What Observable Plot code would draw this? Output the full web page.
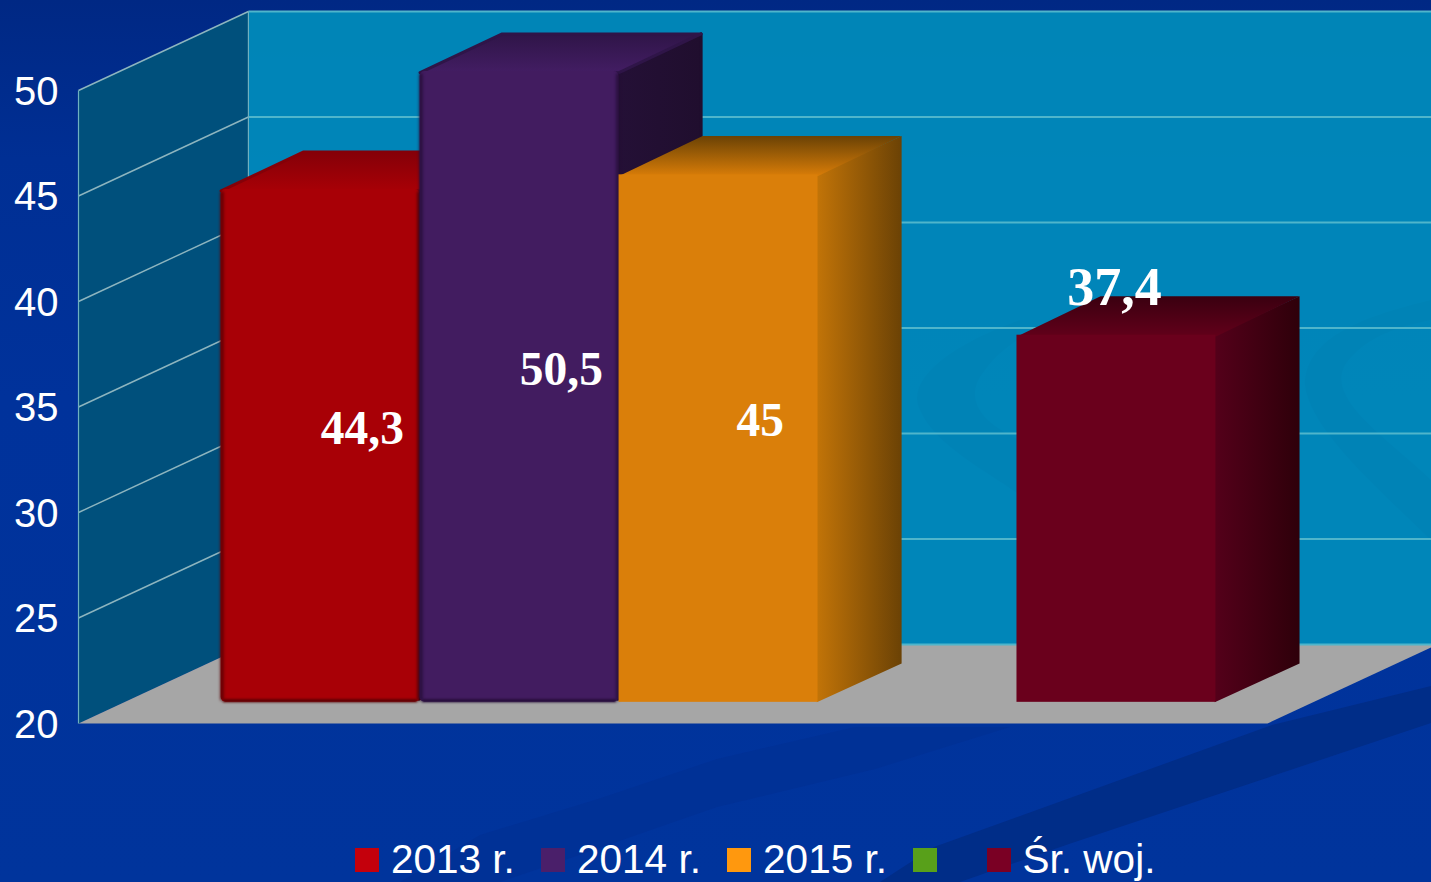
<!DOCTYPE html>
<html lang="pl">
<head>
<meta charset="utf-8">
<title>Wykres słupkowy</title>
<script src="https://cdn.jsdelivr.net/npm/d3@7"></script>
<script src="https://cdn.jsdelivr.net/npm/@observablehq/plot@0.6"></script>
<style>
  html, body { margin: 0; padding: 0; width: 1431px; height: 882px; overflow: hidden; background: #00329b; }
  #decor { position: absolute; left: 0; top: 0; width: 1431px; height: 882px; }
  #chart { position: absolute; left: 0; top: 0; width: 1431px; height: 830px; }
  #chart svg { display: block; background: transparent; overflow: hidden; }
  #legend { position: absolute; left: 355px; top: 830px; height: 52px; overflow: hidden; display: flex; gap: 26.2px;
            padding-top: 9px; box-sizing: border-box; color: #fff; font: 40.5px/1 "Liberation Sans", Arial, sans-serif; white-space: pre; }
  #legend .item { display: flex; align-items: flex-start; }
  #legend .sw { width: 24px; height: 24px; margin: 9px 12px 0 0; flex: none; }
</style>
</head>
<body>
<!-- decorative slide background, not chart data -->
<svg id="decor" viewBox="0 0 1431 882" aria-hidden="true">
  <defs>
    <linearGradient id="bgv" x1="0" y1="0" x2="0" y2="1">
      <stop offset="0" stop-color="#002884"/>
      <stop offset="0.18" stop-color="#002f94"/>
      <stop offset="0.45" stop-color="#00329b"/>
      <stop offset="1" stop-color="#00349c"/>
    </linearGradient>
  </defs>
  <rect width="1431" height="882" fill="url(#bgv)"/>
  <path d="M855 727 L717 759 L598 799 L480 835 L400 882 L500 882 L559 862 L717 807 L875 769 L1010 727 Z" fill="#003196"/>
  <path d="M1431 686 L1272 725 L934 847 L880 882 L960 882 L1069 844 L1431 723 Z" fill="#002d88"/>
  <path d="M1020 320 C950 345 905 380 920 410 C935 445 985 470 1020 495 L1020 440 C985 425 960 400 985 370 C995 355 1010 345 1020 338 Z" fill="#001a78"/>
  <path d="M1431 300 C1370 315 1305 335 1305 385 C1310 430 1380 490 1431 540 L1431 480 C1390 440 1325 400 1345 365 C1365 335 1405 325 1431 320 Z" fill="#001a78"/>
</svg>
<div id="chart"></div>
<div id="legend"></div>

<script>
// ---- data ----
const seriesNames = ["2013 r.", "2014 r.", "2015 r.", "\u00a0", "Śr. woj."];
const seriesValues = [44.3, 50.5, 45, null, 37.4];
const valueLabels = ["44,3", "50,5", "45", "", "37,4"];
const tickValues = [20, 25, 30, 35, 40, 45, 50];

// ---- colours ----
const swatchColors = ["#c4000c", "#4a1f6a", "#ff980e", "#58a01a", "#7a0024"];
const frontColors  = ["#a80006", "#421c60", "#da7f0a", "#6a001c", "#6a001c"];
const topColors    = [["#a80006","#850008"], ["#431d63","#2f1548"], ["#d97d08","#6a4205"], null, ["#62001a","#3a0010"]];
const sideColors   = [["#6a0004","#4a0004"], ["#241036","#200e2e"], ["#c27408","#6b4205"], null, ["#54001a","#2e000a"]];
const edgeColors   = ["#560003", "#240d36", null, null, null];

// ---- oblique projection of the 3D chart box ----
const width = 1431, height = 830;
const xDomain = [-0.488, 5.488];     // series slots across the floor
const yDomain = [20, 50];
const depthX = 0.854, depthY = 3.744; // how one full depth shifts a point, in slots and in value units
const barDepth = [0.268, 0.76];      // where the bars stand on the floor
const yCeil = 49.9;                  // the bars are cut at the top of the value axis

const P = (slot, value, depth) => ({x: slot + depth * depthX, y: value + depth * depthY});
const poly = (...pts) => pts.map(p => P(...p));
const face = (pts, fill, extra = {}) =>
  Plot.line(pts, {x: "x", y: "y", fill, fillOpacity: extra.fillOpacity ?? 1, stroke: extra.stroke ?? "none", strokeWidth: extra.strokeWidth ?? 0, curve: "linear-closed"});

const [x0, x1] = xDomain, [yLo, yHi] = yDomain;
const [d0, d1] = barDepth;

const barMarks = seriesValues.flatMap((value, i) => {
  if (value == null) return [];
  const v = Math.min(value, yCeil);
  const f = P(i, yLo, d0), fTop = P(i + 1, v, d0);
  const round = edgeColors[i] != null;
  const back = round ? d1 - 0.009 : d1;   // rounded bars: the stroke supplies the outer pixel
  const vBack = round ? v - 0.03 : v;
  const vFoot = round ? yLo + 0.15 : yLo;
  const lap = 0.006;                      // side and top slip under the front face, so no seam shows
  const marks = [
    face(poly([i + 1 - lap, vFoot, d0], [i + 1 - lap, vBack, d0], [i + 1, vBack, back], [i + 1, vFoot, back]), `url(#side${i})`,
         round ? {stroke: sideColors[i][1], strokeWidth: 3} : {}),
    face(poly([i, v - lap * 10, d0], [i + 1, v - lap * 10, d0], [i + 1, vBack, back], [i, vBack, back]), `url(#top${i})`,
         round ? {stroke: topColors[i][1], strokeWidth: 3} : {}),
    Plot.rect([0], {x1: f.x, x2: fTop.x, y1: f.y, y2: fTop.y, fill: frontColors[i], rx: round ? 5 : 0})
  ];
  if (round) {
    marks.push(
      Plot.ruleX([f.x + 0.004, fTop.x - 0.006], {y1: f.y + 0.08, y2: fTop.y - 0.12, stroke: edgeColors[i], strokeWidth: 3, imageFilter: "blur(1.5px)"}),
      Plot.ruleY([f.y + 0.08], {x1: f.x + 0.012, x2: fTop.x - 0.012, stroke: edgeColors[i], strokeWidth: 3, imageFilter: "blur(1.2px)"})
    );
  }
  return marks;
});

const gridTicks = tickValues.filter(t => t > yLo);
const labelRows = seriesValues.map((value, i) => ({value, i, label: valueLabels[i]})).filter(d => d.value != null);
const midDepth = (d0 + d1) / 2;
const insideRows = labelRows.filter(d => d.value > 40);
const aboveRows = labelRows.filter(d => d.value <= 40);

const defsMark = () => {
  const svg = d3.create("svg:defs");
  const grad = (id, [a, b], horizontal) => {
    const g = svg.append("linearGradient").attr("id", id)
      .attr("x1", 0).attr("y1", horizontal ? 0 : 1).attr("x2", horizontal ? 1 : 0).attr("y2", 0);
    g.append("stop").attr("offset", 0).attr("stop-color", a);
    g.append("stop").attr("offset", 1).attr("stop-color", b);
  };
  topColors.forEach((c, i) => c && grad(`top${i}`, c, false));
  sideColors.forEach((c, i) => c && grad(`side${i}`, c, true));
  return svg.node();
};

const fontSans = '"Liberation Sans", Arial, sans-serif';
const fontSerif = '"Liberation Serif", "Times New Roman", serif';

const chart = Plot.plot({
  width, height,
  marginLeft: 78, marginRight: width - 1267, marginTop: 90, marginBottom: height - 723,
  style: {background: "transparent", overflow: "hidden"},
  x: {domain: xDomain, axis: null},
  y: {domain: yDomain},
  marks: [
    defsMark,
    // walls and floor (the back wall lets the slide's background show faintly)
    face(poly([x0, yLo, 1], [x1, yLo, 1], [x1, yHi, 1], [x0, yHi, 1]), "#008fbc", {fillOpacity: 0.9}),
    face(poly([x0, yLo, 0], [x0, yHi, 0], [x0, yHi, 1], [x0, yLo, 1]), "#00507c"),
    face(poly([x0, yLo, 0], [x1, yLo, 0], [x1, yLo, 1], [x0, yLo, 1]), "#a6a6a6"),
    // gridlines
    Plot.link(tickValues, {
      x1: () => P(x0, 0, 1).x, x2: () => P(x1, 0, 1).x,
      y1: t => P(0, t, 1).y, y2: t => P(0, t, 1).y,
      stroke: "#4fb5cb", strokeWidth: 1.8
    }),
    Plot.link(gridTicks, {
      x1: () => P(x0, 0, 0).x, x2: () => P(x0, 0, 1).x,
      y1: t => P(0, t, 0).y, y2: t => P(0, t, 1).y,
      stroke: "#8db5bf", strokeWidth: 1.4
    }),
    Plot.link([0, 1], {
      x1: d => P(x0, 0, d).x, x2: d => P(x0, 0, d).x,
      y1: d => P(0, yLo, d).y, y2: d => P(0, yHi, d).y,
      stroke: "#6fb0c0", strokeWidth: 1.2
    }),
    ...barMarks,
    // value labels
    Plot.text(insideRows, {
      x: d => P(d.i + 0.5, 0, midDepth).x,
      y: d => P(0, (yLo + Math.min(d.value, yCeil)) / 2, midDepth).y,
      text: "label", fill: "white", fontSize: 47.5, fontWeight: "bold", fontFamily: fontSerif, dy: 2
    }),
    Plot.text(aboveRows, {
      x: d => P(d.i + 0.5, 0, d0).x,
      y: d => P(0, d.value, d0).y,
      text: "label", fill: "white", fontSize: 54, fontWeight: "bold", fontFamily: fontSerif, dx: -2, dy: -47
    }),
    Plot.axisY({
      ticks: tickValues, tickSize: 0, tickPadding: 20, label: null, anchor: "left",
      fontSize: 40, fontFamily: fontSans, fill: "white", color: "white", dy: 1.5
    })
  ]
});
document.getElementById("chart").append(chart);

// ---- legend ----
const legend = d3.select("#legend");
seriesNames.forEach((name, i) => {
  const item = legend.append("div").attr("class", "item");
  item.append("span").attr("class", "sw").style("background", swatchColors[i]);
  item.append("span").text(name);
});
</script>
</body>
</html>
